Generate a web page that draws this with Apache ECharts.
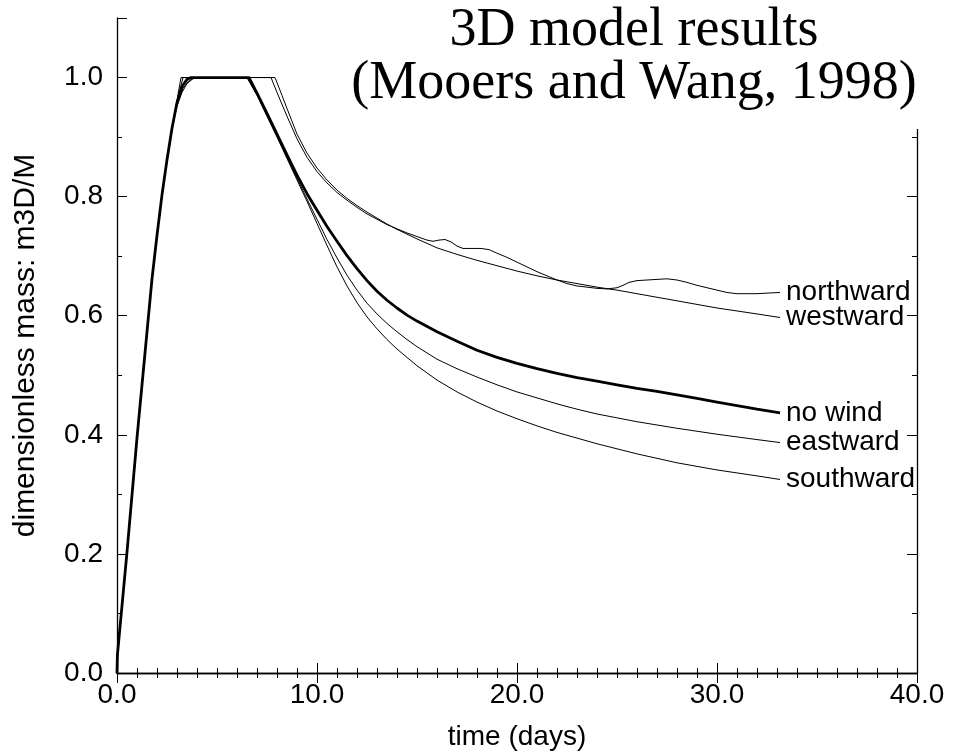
<!DOCTYPE html>
<html><head><meta charset="utf-8">
<script src="https://cdn.jsdelivr.net/npm/echarts@6/dist/echarts.min.js"></script>
<style>html,body{margin:0;padding:0;background:#fff}#chart{width:953px;height:756px}</style>
</head><body><div id="chart"></div>
<script>
// ---- data (time in days, dimensionless mass) ----
const seriesNames = ['northward', 'westward', 'no wind', 'eastward', 'southward'];
const xTickLabels = ['0.0', '10.0', '20.0', '30.0', '40.0'];
const yTickLabels = ['0.0', '0.2', '0.4', '0.6', '0.8', '1.0'];
const titleLines = ['3D model results', '(Mooers and Wang, 1998)'];
const xAxisName = 'time (days)';
const yAxisName = 'dimensionless mass: m3D/M';

const northward = [[0,0],[0.02,0.03],[0.5,0.203],[1.0,0.395],[1.5,0.573],[1.75,0.662],[2.0,0.735],[2.25,0.803],[2.5,0.862],[2.75,0.915],[3.0,0.96],[3.3,1.0],
  [7.7,1.0],[8.0,0.975],[8.5,0.935],[9.0,0.897],[9.5,0.866],[10.0,0.842],[10.5,0.823],[11.0,0.807],[11.5,0.794],[12.0,0.782],[12.5,0.771],[13.0,0.762],[13.5,0.753],[14.0,0.746],[14.5,0.739],[15.0,0.733],[15.5,0.727],[15.8,0.725],[16.1,0.727],[16.4,0.728],[16.7,0.724],[17.0,0.717],[17.3,0.713],[17.7,0.713],[18.2,0.713],[18.6,0.711],[19.0,0.705],[19.5,0.698],[20.0,0.69],[20.5,0.682],[21.0,0.674],[21.5,0.667],[22.0,0.66],[22.5,0.654],[23.0,0.65],[23.5,0.648],[24.0,0.646],[24.5,0.645],[25.0,0.647],[25.3,0.651],[25.6,0.656],[26.0,0.659],[26.5,0.66],[27.0,0.661],[27.5,0.662],[28.0,0.66],[28.5,0.656],[29.0,0.651],[29.5,0.647],[30.0,0.643],[30.5,0.639],[31.0,0.637],[31.5,0.637],[32.0,0.637],[32.5,0.638],[33.15,0.639]];

const westward = [[0,0],[0.02,0.03],[0.5,0.203],[1.0,0.395],[1.5,0.573],[1.75,0.662],[2.0,0.735],[2.25,0.803],[2.5,0.862],[2.75,0.915],[3.0,0.955],[3.3,0.982],[3.6,0.995],[3.9,1.0],
  [7.9,1.0],[8.25,0.97],[8.5,0.948],[9.0,0.905],[9.5,0.873],[10.0,0.848],[10.5,0.828],[11.0,0.811],[11.5,0.797],[12.0,0.785],[12.5,0.774],[13.0,0.764],[13.5,0.754],[14.0,0.745],[15.0,0.729],[16.0,0.714],[17.0,0.703],[18.0,0.693],[19.0,0.684],[20.0,0.675],[21.0,0.667],[22.0,0.66],[23.0,0.654],[24.0,0.648],[25.0,0.643],[26.0,0.637],[27.0,0.631],[28.0,0.625],[29.0,0.619],[30.0,0.613],[31.0,0.608],[32.0,0.603],[33.15,0.597]];

const noWind = [[0,0],[0.02,0.03],[0.5,0.203],[1.0,0.395],[1.5,0.573],[1.75,0.662],[2.0,0.735],[2.25,0.803],[2.5,0.862],[2.75,0.915],[3.0,0.958],[3.25,0.985],[3.5,0.997],[3.7,1.0],
  [6.6,1.0],[7.0,0.974],[7.5,0.94],[8.0,0.905],[8.5,0.87],[9.0,0.836],[9.5,0.805],[10.0,0.777],[10.5,0.75],[11.0,0.725],[11.5,0.701],[12.0,0.679],[12.5,0.659],[13.0,0.641],[13.5,0.626],[14.0,0.613],[14.5,0.601],[15.0,0.591],[16.0,0.573],[17.0,0.557],[18.0,0.542],[19.0,0.53],[20.0,0.52],[21.0,0.511],[22.0,0.503],[23.0,0.496],[24.0,0.49],[25.0,0.484],[26.0,0.478],[27.0,0.473],[28.0,0.467],[29.0,0.461],[30.0,0.455],[31.0,0.449],[32.0,0.443],[33.15,0.437]];

const eastward = [[0,0],[0.02,0.03],[0.5,0.203],[1.0,0.395],[1.5,0.573],[1.75,0.662],[2.0,0.735],[2.25,0.803],[2.5,0.862],[2.75,0.915],[3.0,0.952],[3.25,0.975],[3.5,0.99],[3.8,0.998],[4.05,1.0],
  [6.5,1.0],[7.0,0.972],[7.5,0.937],[8.0,0.902],[8.5,0.866],[9.0,0.831],[9.5,0.796],[10.0,0.762],[10.5,0.728],[11.0,0.697],[11.5,0.668],[12.0,0.643],[12.5,0.621],[13.0,0.603],[13.5,0.587],[14.0,0.573],[14.5,0.56],[15.0,0.548],[16.0,0.527],[17.0,0.511],[18.0,0.497],[19.0,0.484],[20.0,0.472],[21.0,0.462],[22.0,0.452],[23.0,0.443],[24.0,0.435],[26.0,0.422],[28.0,0.411],[30.0,0.401],[32.0,0.392],[33.15,0.387]];

const southward = [[0,0],[0.02,0.03],[0.5,0.203],[1.0,0.395],[1.5,0.573],[1.75,0.662],[2.0,0.735],[2.25,0.803],[2.5,0.862],[2.75,0.915],[3.0,0.962],[3.2,1.0],
  [6.5,1.0],[7.0,0.97],[7.5,0.935],[8.0,0.9],[8.5,0.864],[9.0,0.828],[9.5,0.792],[10.0,0.755],[10.5,0.718],[11.0,0.682],[11.5,0.65],[12.0,0.622],[12.5,0.598],[13.0,0.578],[13.5,0.56],[14.0,0.544],[14.5,0.53],[15.0,0.516],[16.0,0.492],[17.0,0.472],[18.0,0.455],[19.0,0.44],[20.0,0.427],[21.0,0.415],[22.0,0.404],[24.0,0.385],[26.0,0.368],[28.0,0.353],[30.0,0.341],[32.0,0.331],[33.15,0.325]];

const seriesData = [northward, westward, noWind, eastward, southward];
const seriesWidths = [1, 1, 2.8, 1, 1];

// ---- chart ----
const FONT = '"Liberation Sans", Arial, Helvetica, sans-serif';
const BLACK = '#000';
const chart = echarts.init(document.getElementById('chart'), null, {renderer: 'canvas'});

function xAxisCfg(pos, showLabels) {
  return {
    type: 'value', position: pos, min: 0, max: 40, interval: 10,
    axisLine: {show: true, lineStyle: {color: BLACK, width: 1.3}},
    axisTick: {show: true, inside: true, length: 10, lineStyle: {color: BLACK, width: 1}},
    minorTick: {show: true, splitNumber: 10, length: 5, lineStyle: {color: BLACK, width: 1}},
    splitLine: {show: false}, minorSplitLine: {show: false},
    axisLabel: showLabels ? {
      show: true, fontSize: 28, color: BLACK, fontFamily: FONT, margin: 8,
      formatter: v => xTickLabels[Math.round(v / 10)] ?? ''
    } : {show: false},
    name: showLabels ? xAxisName : '',
    nameLocation: 'middle', nameGap: 50,
    nameTextStyle: {fontSize: 28, color: BLACK, fontFamily: FONT}
  };
}
function yAxisCfg(pos, step, tickLen, showLine, showLabels) {
  return {
    type: 'value', position: pos, min: 0, max: 1.1, interval: step,
    axisLine: {show: showLine, lineStyle: {color: BLACK, width: 1.3}},
    axisTick: {show: true, inside: true, length: tickLen, lineStyle: {color: BLACK, width: 1}},
    splitLine: {show: false},
    axisLabel: showLabels ? {
      show: true, fontSize: 28, color: BLACK, fontFamily: FONT, margin: 14,
      formatter: v => { const k = Math.round(v * 10); return (k % 2 === 0 && k <= 10) ? yTickLabels[k / 2] : ''; }
    } : {show: false},
    name: showLabels ? yAxisName : '',
    nameLocation: 'middle', nameGap: 76,
    nameTextStyle: {fontSize: 30, color: BLACK, fontFamily: FONT}
  };
}

const option = {
  animation: false,
  backgroundColor: '#fff',
  grid: {left: 117, right: 36, top: 18, bottom: 79, containLabel: false},
  xAxis: [xAxisCfg('bottom', true), xAxisCfg('top', false)],
  yAxis: [
    yAxisCfg('left', 0.1, 5, true, true),
    yAxisCfg('left', 0.2, 10, false, false),
    yAxisCfg('right', 0.1, 5, true, false),
    yAxisCfg('right', 0.2, 10, false, false)
  ],
  series: seriesNames.map((name, i) => ({
    name: name, type: 'line', xAxisIndex: 0, yAxisIndex: 0,
    data: seriesData[i], showSymbol: false, symbol: 'none', silent: true,
    emphasis: {disabled: true},
    lineStyle: {color: BLACK, width: seriesWidths[i], join: 'round'},
    z: i === 2 ? 4 : 3,
    endLabel: {show: true, formatter: '{a}', fontSize: 28, fontFamily: FONT, color: BLACK, distance: 6}
  })),
  graphic: [
    {type: 'rect', shape: {x: 322, y: 0, width: 640, height: 129}, style: {fill: '#fff'}, z: 100, silent: true},
    {type: 'text', x: 634, y: 4, z: 101, silent: true,
     style: {text: titleLines.join('\n'), fontSize: 54, fontFamily: '"Liberation Serif", "Times New Roman", serif',
             fill: BLACK, align: 'center', textAlign: 'center', verticalAlign: 'top', textVerticalAlign: 'top', lineHeight: 53}}
  ]
};
chart.setOption(option);
</script>
</body></html>
